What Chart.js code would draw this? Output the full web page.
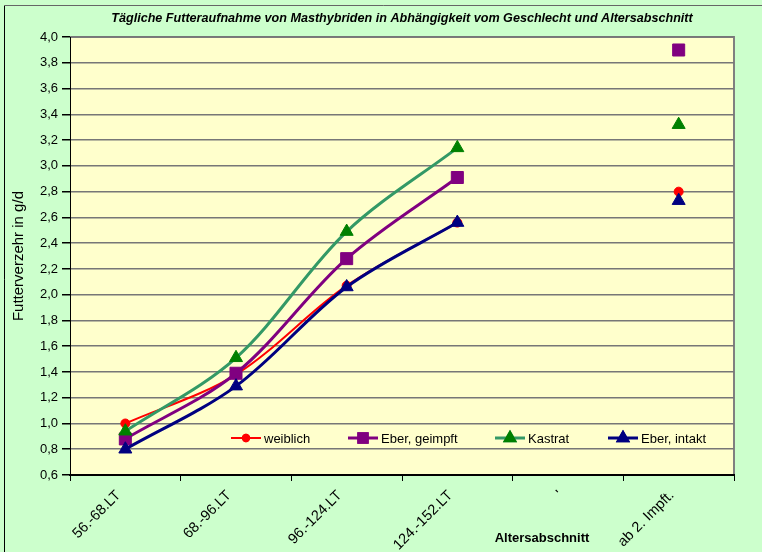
<!DOCTYPE html>
<html>
<head>
<meta charset="utf-8">
<script src="https://cdn.jsdelivr.net/npm/chart.js@4.4.0/dist/chart.umd.min.js"></script>
<style>
    html, body { margin: 0; padding: 0; background: #ccffcc; }
    #wrap { position: relative; width: 762px; height: 552px; }
</style>
</head>
<body>
<div id="wrap"><canvas id="chart" width="762" height="552"></canvas></div>
<script>
// data
const categories = ['56.-68.LT', '68.-96.LT', '96.-124.LT', '124.-152.LT', "'", 'ab 2. Impft.'];
const weiblich = [1.00, 1.38, 2.07, 2.56, null, 2.80];
const eberGeimpft = [0.88, 1.39, 2.28, 2.91, null, 3.90];
const kastrat = [0.94, 1.51, 2.49, 3.14, null, 3.32];
const eberIntakt = [0.80, 1.29, 2.06, 2.56, null, 2.73];
const yMin = 0.6;
const yMax = 4.0;
const yStep = 0.2;

const FONT = "'Liberation Sans', Arial, sans-serif";

// plot background + outer frame
const backgroundPlugin = {
    id: 'plotBackground',
    beforeDraw(chart) {
        const { ctx, chartArea: a } = chart;
        ctx.save();
        ctx.fillStyle = '#ffffcc';
        ctx.fillRect(a.left, a.top, a.right - a.left, a.bottom - a.top);
        ctx.strokeStyle = '#808080';
        ctx.lineWidth = 2;
        ctx.beginPath();
        ctx.moveTo(a.left, a.top);
        ctx.lineTo(a.right, a.top);
        ctx.lineTo(a.right, a.bottom);
        ctx.stroke();
        // outer frame
        ctx.lineWidth = 1;
        ctx.strokeStyle = '#000';
        ctx.beginPath();
        ctx.moveTo(4.5, 600);
        ctx.lineTo(4.5, 5.5);
        ctx.stroke();
        ctx.strokeStyle = '#666';
        ctx.beginPath();
        ctx.moveTo(4.5, 5.5);
        ctx.lineTo(800, 5.5);
        ctx.stroke();
        ctx.restore();
    }
};

// legend inside the plot area, x-axis title placed like in Excel
const legendPlugin = {
    id: 'innerLegend',
    afterDraw(chart) {
        const { ctx, chartArea: a } = chart;
        const y = a.bottom - 37;
        const starts = [161, 278, 425, 538];
        ctx.save();
        chart.data.datasets.forEach((ds, i) => {
            const x = a.left + starts[i];
            ctx.strokeStyle = ds.borderColor;
            ctx.lineWidth = ds.borderWidth;
            ctx.beginPath();
            ctx.moveTo(x, y);
            ctx.lineTo(x + 30, y);
            ctx.stroke();
            Chart.helpers.drawPoint(ctx, {
                pointStyle: ds.pointStyle,
                radius: ds.legendRadius,
                borderWidth: 1
            }, x + 15, y);
            ctx.fillStyle = ds.pointBackgroundColor;
            ctx.strokeStyle = ds.pointBorderColor;
            ctx.fill();
            ctx.stroke();
            ctx.fillStyle = '#000';
            ctx.font = '13px ' + FONT;
            ctx.textBaseline = 'middle';
            ctx.textAlign = 'left';
            ctx.fillText(ds.label, x + 33, y + 1);
        });
        ctx.font = 'bold 13px ' + FONT;
        ctx.textAlign = 'center';
        ctx.textBaseline = 'middle';
        ctx.fillText('Altersabschnitt', a.left + 472, a.bottom + 63);
        ctx.restore();
    }
};

function series(label, data, color, lineColor, style, radius, width, order) {
    return {
        label: label,
        data: data,
        borderColor: lineColor,
        borderWidth: width,
        pointStyle: style,
        pointRadius: radius,
        legendRadius: radius * 0.7,
        pointBackgroundColor: color,
        pointBorderColor: color,
        pointBorderWidth: 1,
        tension: 0.33,
        spanGaps: false,
        order: order
    };
}

const ctx = document.getElementById('chart').getContext('2d');
const chart = new Chart(ctx, {
    type: 'line',
    data: {
        labels: categories,
        datasets: [
            series('weiblich', weiblich, '#ff0000', '#ff0000', 'circle', 4.5, 2, 3),
            series('Eber, geimpft', eberGeimpft, '#800080', '#800080', 'rect', 8.5, 3, 2),
            series('Kastrat', kastrat, '#008000', '#339966', 'triangle', 7.5, 3, 1),
            series('Eber, intakt', eberIntakt, '#000080', '#000080', 'triangle', 7.5, 3, 0)
        ]
    },
    plugins: [backgroundPlugin, legendPlugin],
    options: {
        responsive: false,
        animation: false,
        devicePixelRatio: 1,
        layout: { padding: { left: 0, right: 28, top: 0, bottom: 0 } },
        plugins: {
            legend: { display: false },
            tooltip: { enabled: false },
            title: {
                display: true,
                fullSize: false,
                text: 'Tägliche Futteraufnahme von Masthybriden in Abhängigkeit vom Geschlecht und Altersabschnitt',
                color: '#000',
                font: { family: FONT, size: 12.6, weight: 'bold', style: 'italic' },
                padding: { top: 11, bottom: 11 }
            }
        },
        scales: {
            x: {
                offset: true,
                grid: {
                    offset: true,
                    drawOnChartArea: false,
                    drawTicks: true,
                    tickLength: 6,
                    tickColor: '#000'
                },
                border: { color: '#000', width: 2 },
                ticks: {
                    color: '#000',
                    font: { family: FONT, size: 14.5 },
                    minRotation: 45,
                    maxRotation: 45,
                    autoSkip: false,
                    padding: 6,
                    labelOffset: -7
                },
                afterFit(scale) { scale.height = 77; }
            },
            y: {
                min: yMin,
                max: yMax,
                grid: {
                    color: '#777',
                    lineWidth: 1.5,
                    tickColor: '#000',
                    tickLength: 8
                },
                border: { color: '#000', width: 1 },
                ticks: {
                    stepSize: yStep,
                    color: '#000',
                    font: { family: FONT, size: 13 },
                    padding: 4,
                    callback: (v) => v.toFixed(1).replace('.', ',')
                },
                title: {
                    display: true,
                    text: 'Futterverzehr in g/d',
                    color: '#000',
                    font: { family: FONT, size: 15 },
                    padding: { top: 10, bottom: 0 }
                },
                afterFit(scale) { scale.width = 70; }
            }
        }
    }
});
</script>
</body>
</html>
